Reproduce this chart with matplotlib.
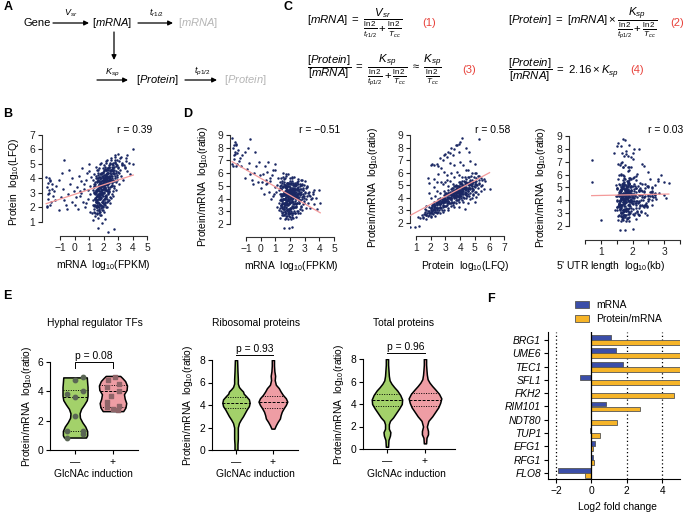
import numpy as np
import matplotlib
matplotlib.use('Agg')
import matplotlib.pyplot as plt
from matplotlib.patches import Rectangle

plt.rcParams['font.family'] = ['Liberation Sans', 'DejaVu Sans']
plt.rcParams['font.size'] = 7.4
plt.rcParams['mathtext.fontset'] = 'custom'
plt.rcParams['mathtext.rm'] = 'Liberation Sans'
plt.rcParams['mathtext.it'] = 'Liberation Sans:italic'
plt.rcParams['mathtext.bf'] = 'Liberation Sans:bold'
plt.rcParams['axes.facecolor'] = 'none'
plt.rcParams['axes.linewidth'] = 0.8

FS = 7.4

# ---- data: per gene log10 mRNA (FPKM), log10 protein (LFQ), log10 5'UTR length
mrna_log = [1.22, 1.35, 1.28, 1.39, 1.25, 1.33, 1.30, 1.37, 1.24, 1.31,
            1.42, 1.55, 1.47, 1.58, 1.44, 1.52, 1.49, 1.57, 1.41, 1.54, 1.46, 1.59, 1.51, 1.43, 1.56, 1.48,
            1.62, 1.75, 1.68, 1.79, 1.64, 1.72, 1.66, 1.78, 1.61, 1.74, 1.69, 1.77, 1.63, 1.71, 1.76, 1.65,
            1.73, 1.67, 1.79, 1.62, 1.70,
            1.83, 1.96, 1.88, 1.99, 1.81, 1.92, 1.86, 1.97, 1.84, 1.91, 1.89, 1.95, 1.82, 1.93, 1.87, 1.98,
            1.85, 1.94, 1.90, 1.81, 1.97,
            2.04, 2.15, 2.08, 2.19, 2.02, 2.12, 2.06, 2.17, 2.01, 2.14, 2.09, 2.18, 2.03, 2.11, 2.16, 2.07,
            2.13, 2.05, 2.19,
            2.23, 2.36, 2.28, 2.39, 2.21, 2.33, 2.26, 2.38, 2.24, 2.31, 2.35, 2.27, 2.22, 2.37, 2.30,
            2.43, 2.56, 2.48, 2.59, 2.41, 2.53, 2.46, 2.57, 2.44, 2.52, 2.49, 2.55,
            2.64, 2.75, 2.68, 2.79, 2.62, 2.73, 2.66, 2.77, 2.71,
            2.83, 2.95, 2.88, 2.98, 2.85, 2.92, 2.81,
            3.05, 3.22, 3.12, 3.28, 3.08, 3.18, 3.02,
            3.35, 3.62, 3.48, 3.75, 3.55,
            3.85, 4.05, 4.00,
            1.60, 1.90, 2.30, 2.70, 1.30, 2.10,
            -1.92, -1.85, -1.78, -1.88, -1.70, -1.95, -1.62, -1.80, -1.55, -1.74, -1.90, -1.66, -1.48, -1.83,
            -1.58, -1.35, -1.76, -1.42, -1.25, -1.68,
            -1.10, -0.95, -0.80, -1.05, -0.60, -0.70, -0.45, -0.88, -0.30, -0.55, -0.15, -0.72, -0.05, -0.38,
            -0.20,
            0.05, 0.15, 0.22, 0.30, 0.38, 0.45, 0.50, 0.58, 0.65, 0.70, 0.78, 0.85, 0.90, 0.95, 1.00, 1.05,
            1.10, 1.15, 0.12, 0.42, 0.62, 0.82, 0.98, 1.08, 0.35,
            1.32, 1.45, 1.38, 1.50, 1.36, 1.47, 1.34, 1.43, 1.40, 1.48, 1.37, 1.46,
            1.53, 1.66, 1.58, 1.69, 1.51, 1.63, 1.56, 1.68, 1.54, 1.65, 1.59, 1.67, 1.52, 1.64, 1.57, 1.61,
            1.55, 1.69,
            1.72, 1.85, 1.78, 1.89, 1.71, 1.83, 1.76, 1.88, 1.74, 1.86, 1.79, 1.84, 1.73, 1.87, 1.77, 1.82,
            1.75, 1.89, 1.81, 1.70,
            1.92, 2.05, 1.98, 2.09, 1.91, 2.03, 1.96, 2.08, 1.94, 2.06, 1.99, 2.04, 1.93, 2.07, 1.97, 2.02,
            1.95, 2.09, 2.01, 1.90,
            2.12, 2.25, 2.18, 2.29, 2.11, 2.23, 2.16, 2.28, 2.14, 2.26, 2.19, 2.24, 2.13, 2.27, 2.17, 2.22,
            2.15, 2.21,
            2.32, 2.45, 2.38, 2.49, 2.31, 2.43, 2.36, 2.48, 2.34, 2.46, 2.39, 2.44, 2.33, 2.47,
            2.52, 2.65, 2.58, 2.69, 2.51, 2.63, 2.56, 2.68, 2.54, 2.61,
            2.72, 2.86, 2.78, 2.93, 2.74, 2.89, 2.81, 2.97,
            1.36, 1.52, 1.41, 1.48, 1.39, 1.55, 1.44, 1.50, 1.37, 1.46,
            1.58, 1.72, 1.61, 1.69, 1.56, 1.74, 1.64, 1.71, 1.59, 1.67, 1.73, 1.62, 1.57, 1.70,
            1.77, 1.93, 1.80, 1.90, 1.76, 1.94, 1.83, 1.88, 1.79, 1.91, 1.84, 1.95, 1.78, 1.86, 1.82, 1.92,
            1.97, 2.13, 2.00, 2.10, 1.96, 2.14, 2.03, 2.08, 1.99, 2.11, 2.04, 2.15, 1.98, 2.06, 2.02, 2.12,
            2.17, 2.33, 2.20, 2.30, 2.16, 2.34, 2.23, 2.28, 2.19, 2.31, 2.24, 2.35, 2.18, 2.27,
            2.37, 2.58, 2.41, 2.52, 2.36, 2.55, 2.44, 2.50, 2.39, 2.57, 2.46, 2.53,
            2.63, 2.95, 2.70, 2.85, 2.66, 2.90, 2.76, 2.82, 2.68, 2.98,
            3.10, 3.45, 3.25, 3.55, 3.15, 3.38, 3.60, 3.30]
protein_log = [1.6, 2.1, 2.5, 2.9, 3.2, 3.6, 3.9, 4.3, 2.2, 3.0,
               1.4, 1.8, 2.0, 2.3, 2.6, 2.8, 3.1, 3.3, 3.5, 3.8, 4.0, 4.4, 4.8, 1.6, 2.4, 3.0,
               1.3, 1.5, 1.9, 2.2, 2.4, 2.7, 2.9, 3.0, 3.2, 3.4, 3.6, 3.7, 3.9, 4.1, 4.3, 4.6, 5.0, 2.0,
               2.6, 3.3, 3.8,
               1.5, 1.8, 2.1, 2.5, 2.7, 2.9, 3.1, 3.3, 3.4, 3.6, 3.8, 3.9, 4.0, 4.2, 4.4, 4.7, 5.1, 2.3,
               3.0, 3.5, 4.1,
               1.7, 2.0, 2.4, 2.8, 3.0, 3.2, 3.5, 3.7, 3.8, 4.0, 4.1, 4.3, 4.5, 4.8, 5.2, 2.6, 3.4, 3.9, 4.6,
               2.0, 2.5, 2.9, 3.3, 3.6, 3.8, 4.0, 4.2, 4.4, 4.6, 4.9, 5.3, 3.1, 3.9, 4.7,
               2.3, 2.9, 3.4, 3.7, 4.0, 4.3, 4.5, 4.8, 5.0, 5.4, 3.9, 4.6,
               2.8, 3.5, 3.9, 4.2, 4.5, 4.8, 5.1, 5.5, 4.4,
               3.2, 3.9, 4.4, 4.7, 5.0, 5.3, 5.6,
               3.6, 4.2, 4.6, 4.9, 5.2, 5.5, 5.7,
               3.9, 4.5, 4.8, 5.1, 5.4,
               4.3, 5.0, 6.0,
               0.6, 0.9, 0.3, 0.5, 1.1, 1.2,
               2.1, 2.6, 3.0, 3.4, 3.8, 4.1, 2.4, 2.9, 3.6, 3.2, 2.0, 3.9, 2.8, 3.7, 3.3, 2.5, 4.0, 3.1, 3.5, 2.2,
               1.8, 2.7, 3.3, 3.9, 2.2, 5.3, 2.9, 4.4, 3.6, 1.9, 4.0, 2.5, 3.1, 4.6, 2.4,
               2.2, 3.4, 1.9, 4.2, 2.8, 3.0, 4.7, 2.4, 3.6, 2.0, 3.9, 4.4, 2.6, 3.2, 5.0, 2.9, 3.5, 4.1,
               2.7, 3.8, 3.3, 2.3, 4.5, 1.7, 3.1,
               1.9, 2.35, 2.65, 2.75, 3.05, 3.15, 3.45, 3.65, 3.75, 4.15, 2.15, 2.55,
               1.55, 1.75, 2.05, 2.25, 2.45, 2.55, 2.85, 2.95, 3.15, 3.25, 3.45, 3.55, 3.75, 3.85, 4.05, 4.25,
               4.55, 2.75,
               1.65, 1.95, 2.15, 2.35, 2.55, 2.65, 2.85, 3.05, 3.15, 3.25, 3.35, 3.45, 3.55, 3.65, 3.75, 3.85,
               3.95, 4.15, 4.35, 4.75,
               1.85, 2.25, 2.45, 2.65, 2.85, 3.05, 3.25, 3.35, 3.45, 3.55, 3.65, 3.75, 3.85, 3.95, 4.05, 4.25,
               4.45, 4.65, 4.95, 2.05,
               2.15, 2.55, 2.85, 3.15, 3.35, 3.55, 3.65, 3.75, 3.85, 3.95, 4.05, 4.15, 4.25, 4.35, 4.55, 4.75,
               5.05, 2.35,
               2.45, 2.75, 3.05, 3.45, 3.65, 3.85, 4.05, 4.15, 4.35, 4.55, 4.75, 5.05, 3.25, 3.95,
               2.65, 3.15, 3.55, 3.85, 4.15, 4.35, 4.65, 4.95, 5.25, 4.05,
               3.35, 3.75, 4.05, 4.25, 4.55, 4.85, 5.15, 4.45,
               1.7, 2.0, 2.2, 2.4, 2.6, 2.8, 3.0, 3.2, 3.4, 2.1,
               1.6, 1.85, 2.1, 2.3, 2.5, 2.7, 2.9, 3.1, 3.3, 3.5, 3.7, 4.0, 2.2, 2.8,
               1.7, 2.0, 2.2, 2.4, 2.6, 2.8, 3.0, 3.2, 3.4, 3.5, 3.7, 3.9, 4.1, 4.3, 2.9, 3.6,
               2.1, 2.3, 2.6, 2.8, 3.0, 3.2, 3.4, 3.6, 3.7, 3.9, 4.0, 4.2, 4.4, 4.6, 3.3, 3.8,
               2.7, 3.0, 3.2, 3.4, 3.6, 3.8, 3.9, 4.1, 4.2, 4.4, 4.6, 4.8, 3.7, 4.3,
               3.1, 3.5, 3.7, 3.9, 4.1, 4.2, 4.4, 4.6, 4.8, 5.0, 4.0, 4.5,
               3.8, 4.1, 4.3, 4.5, 4.7, 4.9, 5.1, 5.3, 4.4, 4.8,
               4.4, 4.7, 5.0, 5.2, 5.4, 4.9, 5.6, 5.1]
utr_log = [1.7, 1.5, 2.1, 1.8, 1.6, 2.4, 1.9, 1.55, 2.6, 1.75,
           1.65, 1.9, 1.45, 2.2, 1.8, 1.6, 2.5, 1.7, 1.95, 1.5, 2.3, 1.85, 1.62, 2.05, 1.72, 2.7,
           1.8, 1.55, 2.0, 1.68, 2.35, 1.9, 1.6, 2.15, 1.75, 1.48, 2.55, 1.82, 1.66, 2.0, 1.58, 2.8, 1.7,
           1.92, 1.52, 2.25, 1.78,
           1.62, 2.1, 1.85, 1.7, 2.45, 1.58, 1.95, 1.76, 2.3, 1.68, 1.88, 2.6, 1.5, 1.8, 2.05, 1.72, 2.9,
           1.64, 1.98, 1.84, 2.2,
           1.9, 1.66, 2.4, 1.74, 1.56, 2.1, 1.82, 2.65, 1.7, 1.94, 1.6, 2.28, 1.78, 1.86, 2.0, 1.52, 2.5,
           1.73, 1.96,
           1.7, 2.2, 1.6, 1.88, 2.75, 1.76, 1.54, 2.05, 1.84, 1.67, 2.4, 1.92, 1.58, 2.15, 1.8,
           1.82, 1.64, 2.3, 1.75, 1.98, 1.56, 2.6, 1.7, 1.9, 2.12, 1.62, 1.86,
           1.72, 2.45, 1.6, 1.94, 1.78, 2.2, 1.66, 3.0, 1.85,
           1.9, 1.58, 2.35, 1.76, 2.05, 1.68, 2.8,
           1.74, 2.0, 1.62, 2.55, 1.8, 1.92, 3.15,
           1.7, 2.25, 1.85, 1.6, 2.7,
           1.8, 2.4, 1.95,
           1.75, 1.6, 2.1, 1.85, 1.0, 2.0,
           1.6, 0.7, 1.85, 2.05, 1.5, 1.68, 1.75, 1.95, 1.78, 1.4, 1.7, 1.9, 1.65, 1.62, 1.8, 1.86, 1.55,
           2.0, 1.72, 1.95,
           1.7, 1.9, 1.55, 2.0, 1.82, 1.76, 1.62, 2.2, 1.9, 1.48, 2.3, 1.74, 2.1, 1.65, 1.72,
           1.8, 1.58, 2.2, 1.7, 2.45, 1.9, 1.64, 2.6, 1.76, 1.52, 2.05, 1.86, 3.0, 1.68, 2.35, 1.6, 1.95,
           1.95, 1.72, 2.15, 1.84, 1.62, 2.5, 1.78, 0.7,
           1.72, 1.58, 2.02, 1.84, 1.66, 2.3, 1.78, 1.52, 2.5, 1.9, 1.62, 1.98,
           1.76, 1.54, 2.14, 1.7, 1.86, 2.42, 1.64, 1.94, 1.5, 2.06, 1.8, 1.68, 2.62, 1.74, 1.6, 2.22,
           1.88, 1.56,
           1.82, 1.62, 2.26, 1.72, 1.92, 1.55, 2.08, 1.78, 2.52, 1.66, 1.86, 1.7, 2.0, 1.58, 2.36, 1.76,
           1.64, 2.12, 1.9, 1.74,
           1.68, 2.18, 1.8, 1.6, 2.4, 1.74, 1.96, 1.52, 2.04, 1.84, 1.66, 2.7, 1.78, 1.9, 1.62, 2.24,
           1.72, 1.86, 2.56, 1.7,
           1.9, 1.64, 2.1, 1.76, 1.56, 2.32, 1.82, 1.68, 2.0, 1.74, 2.85, 1.6, 1.94, 1.8, 2.16, 1.66,
           1.88, 2.45,
           1.78, 2.06, 1.62, 1.9, 2.6, 1.72, 1.84, 1.58, 2.2, 1.76, 1.96, 1.68, 2.38, 1.82,
           1.74, 2.28, 1.66, 1.92, 1.8, 2.5, 1.6, 2.1, 1.86, 3.05,
           1.84, 1.64, 2.2, 1.76, 2.68, 1.9, 1.7, 2.02,
           1.66, 1.84, 1.58, 2.12, 1.74, 1.9, 2.36, 1.62, 1.78, 2.0,
           1.7, 1.56, 1.96, 1.82, 2.24, 1.64, 1.76, 2.5, 1.68, 1.88, 1.6, 2.08, 1.8, 1.72,
           1.86, 1.62, 2.14, 1.74, 1.58, 2.34, 1.7, 1.92, 1.66, 2.02, 1.78, 2.58, 1.64, 1.84, 1.72, 1.98,
           1.76, 2.2, 1.6, 1.9, 1.7, 2.44, 1.82, 1.66, 2.06, 1.74, 1.58, 2.3, 1.86, 1.68, 1.94, 1.8,
           1.72, 1.94, 1.6, 2.16, 1.8, 1.66, 2.4, 1.76, 1.88, 1.62, 2.62, 1.7, 1.84, 2.04,
           1.8, 1.64, 2.26, 1.74, 1.96, 1.6, 2.1, 1.86, 1.7, 2.48, 1.78, 1.9,
           1.68, 2.2, 1.76, 1.9, 1.62, 2.36, 1.82, 2.72, 1.74, 1.96,
           1.7, 2.04, 1.84, 2.6, 1.78, 1.92, 2.2, 1.66]
ratio_offset = 2.7   # log10(protein/mRNA) = log10 LFQ - log10 FPKM + offset

# ---- panel E: hyphal regulator TFs (points) and violin outlines
tf_minus = [4.97, 4.75, 4.05, 3.8, 3.6, 2.3, 1.3, 1.3, 1.1, 0.85]
tf_minus_dx = [0.2, 0.0, 0.2, -0.22, 0.0, 0.0, -0.22, 0.22, 0.22, -0.2]
tf_plus = [5.0, 4.75, 4.5, 4.3, 4.0, 3.7, 3.3, 3.0, 2.95, 2.8, 2.7]
tf_plus_dx = [0.05, -0.12, 0.15, -0.15, 0.15, -0.05, -0.15, 0.15, -0.15, 0.0, 0.12]

tf_minus_y = [0.85, 1.0, 1.3, 1.6, 1.9, 2.2, 2.5, 2.8, 3.1, 3.4, 3.7, 4.0, 4.3, 4.6, 4.95]
tf_minus_w = [0.29, 0.32, 0.32, 0.27, 0.19, 0.13, 0.12, 0.16, 0.24, 0.31, 0.33, 0.33, 0.33, 0.32, 0.31]
tf_plus_y = [2.65, 2.9, 3.2, 3.5, 3.8, 4.1, 4.4, 4.7, 4.9, 5.05]
tf_plus_w = [0.27, 0.33, 0.35, 0.31, 0.29, 0.36, 0.37, 0.32, 0.25, 0.19]
tf_quart = [[1.3, 3.6, 4.1], [2.95, 4.0, 4.4]]

ribo_minus_y = [0.0, 0.5, 1.0, 1.5, 2.0, 2.4, 2.7, 3.0, 3.3, 3.6, 3.9, 4.2, 4.5, 4.8, 5.0, 5.2, 5.4, 5.6,
                5.9, 6.3, 7.0, 7.5, 8.0]
ribo_minus_w = [0.04, 0.04, 0.05, 0.05, 0.05, 0.08, 0.13, 0.19, 0.24, 0.29, 0.35, 0.37, 0.35, 0.27, 0.21,
                0.19, 0.13, 0.08, 0.05, 0.05, 0.04, 0.035, 0.03]
ribo_plus_y = [1.9, 2.2, 2.5, 2.8, 3.1, 3.4, 3.7, 4.0, 4.3, 4.6, 4.9, 5.2, 5.5, 5.8, 6.2, 6.6, 7.0, 7.5, 8.0]
ribo_plus_w = [0.04, 0.08, 0.13, 0.19, 0.21, 0.24, 0.29, 0.35, 0.39, 0.35, 0.27, 0.21, 0.16, 0.08, 0.05,
               0.06, 0.04, 0.03, 0.03]
ribo_quart = [[3.7, 4.2, 4.7], [3.75, 4.3, 4.8]]

total_minus_y = [0.2, 0.8, 1.2, 1.5, 1.8, 2.2, 2.5, 2.8, 3.2, 3.6, 4.0, 4.4, 4.8, 5.2, 5.5, 5.8, 6.1, 6.5,
                 7.0, 7.5, 8.0]
total_minus_w = [0.03, 0.04, 0.08, 0.09, 0.05, 0.05, 0.08, 0.16, 0.24, 0.32, 0.39, 0.4, 0.35, 0.27, 0.19,
                 0.12, 0.07, 0.05, 0.04, 0.03, 0.03]
total_plus_y = [0.5, 1.0, 1.3, 1.6, 2.0, 2.5, 2.9, 3.3, 3.7, 4.1, 4.5, 4.9, 5.3, 5.6, 5.9, 6.2, 6.6, 7.0,
                7.5, 8.0]
total_plus_w = [0.03, 0.04, 0.08, 0.08, 0.05, 0.09, 0.19, 0.27, 0.35, 0.4, 0.43, 0.37, 0.27, 0.19, 0.12,
                0.07, 0.05, 0.04, 0.03, 0.03]
total_quart = [[3.8, 4.35, 4.9], [3.8, 4.4, 4.95]]

# ---- panel F
genes_f = ['BRG1', 'UME6', 'TEC1', 'SFL1', 'FKH2', 'RIM101', 'NDT80', 'TUP1', 'EFG1', 'RFG1', 'FLO8']
mrna_fc = [1.08, 1.36, 1.80, -0.64, 0.0, 0.83, 0.0, -0.06, 0.23, 0.08, -1.90]
ratio_fc = [5.0, 5.0, 5.0, 5.0, 4.64, 2.76, 1.42, 0.51, 0.08, 0.17, -0.38]

W, H = 687, 512
fig = plt.figure(figsize=(W / 100, H / 100), dpi=100)
cv = fig.add_axes([0, 0, 1, 1])
cv.set_xlim(0, W)
cv.set_ylim(H, 0)
cv.axis('off')


def box(x0, y0, x1, y1):
    return [x0 / W, 1 - y1 / H, (x1 - x0) / W, (y1 - y0) / H]


def arrow(x0, y0, x1, y1):
    cv.annotate('', xy=(x1, y1), xytext=(x0, y0),
                arrowprops=dict(arrowstyle='-|>', color='k', lw=0.9, mutation_scale=7,
                                shrinkA=0, shrinkB=0))


# panel letters
for lab, x, y in [('A', 4, 7), ('C', 283, 7), ('B', 3, 114), ('D', 183, 114), ('E', 3, 296), ('F', 487, 299)]:
    cv.text(x, y, lab, fontsize=9, fontweight='bold', ha='left', va='center')

# ---- A: scheme
grey = '#b5b5b5'
cv.text(23, 23, 'Gene', fontsize=8, va='center')
arrow(53, 23, 89, 23)
cv.text(71, 13, r'$V_{sr}$', fontsize=6.5, ha='center', va='center')
cv.text(92, 23, r'$[mRNA]$', fontsize=8, va='center')
arrow(138, 23, 173, 23)
cv.text(157, 13, r'$t_{r1/2}$', fontsize=6.5, ha='center', va='center')
cv.text(178, 23, r'$[mRNA]$', fontsize=8, va='center', color=grey)
arrow(114, 32, 114, 60)
arrow(97, 80, 128, 80)
cv.text(112, 73, r'$K_{sp}$', fontsize=6.5, ha='center', va='center')
cv.text(136, 80, r'$[Protein]$', fontsize=8, va='center')
arrow(185, 80, 217, 80)
cv.text(202, 71, r'$t_{p1/2}$', fontsize=6.5, ha='center', va='center')
cv.text(224, 80, r'$[Protein]$', fontsize=8, va='center', color=grey)

# ---- C: equations
red = '#e8413a'
eqs = [(307, 23, r'$[mRNA]\ =\ \dfrac{V_{sr}}{\frac{\ln 2}{t_{r1/2}} + \frac{\ln 2}{T_{cc}}}$', 422, '(1)'),
       (508, 23, r'$[Protein]\ =\ [mRNA] \times \dfrac{K_{sp}}{\frac{\ln 2}{t_{p1/2}} + \frac{\ln 2}{T_{cc}}}$',
        670, '(2)'),
       (307, 70, r'$\dfrac{[Protein]}{[mRNA]}\ =\ \dfrac{K_{sp}}{\frac{\ln 2}{t_{p1/2}} + \frac{\ln 2}{T_{cc}}}'
                 r'\ \approx\ \dfrac{K_{sp}}{\frac{\ln 2}{T_{cc}}}$', 462, '(3)'),
       (508, 70, r'$\dfrac{[Protein]}{[mRNA]}\ =\ 2.16 \times K_{sp}$', 630, '(4)')]
for x, y, s, xn, num in eqs:
    cv.text(x, y, s, fontsize=8.2, ha='left', va='center')
    cv.text(xn, y, num, fontsize=8, ha='left', va='center', color=red)

# ---- B / D scatter panels
m = np.array(mrna_log)
p = np.array(protein_log)
u = np.array(utr_log)
ratio = p - m + ratio_offset


def scatter_panel(pbox, x, y, xlim, ylim, xb, yb, xt, yt, xtl=None):
    ax = fig.add_axes(box(*pbox))
    ax.set_xlim(xlim)
    ax.set_ylim(ylim)
    ax.scatter(x, y, s=3.2, color='#1a2763', linewidths=0, zorder=2)
    k, b = np.polyfit(x, y, 1)
    xx = np.array([x.min(), x.max()])
    ax.plot(xx, k * xx + b, color='#f49a9a', lw=0.9, zorder=3)
    ax.spines[['top', 'right']].set_visible(False)
    ax.spines['bottom'].set_bounds(*xb)
    ax.spines['left'].set_bounds(*yb)
    ax.spines[['left', 'bottom']].set_color('#333333')
    ax.set_xticks(xt)
    if xtl is not None:
        ax.set_xticklabels(xtl)
    ax.set_yticks(yt)
    ax.tick_params(length=3, width=0.8, pad=2, labelsize=FS, colors='#222222')
    return ax


scatter_panel((42, 128, 152, 236), m, p, (-2.24, 5.34), (0.03, 7.48), (-1, 5), (1, 7),
              range(-1, 6), range(1, 8))
scatter_panel((230, 130, 343, 237), m, ratio, (-2.09, 5.6), (0.98, 9.4), (-1, 5), (2, 9),
              range(-1, 6), range(2, 10))
scatter_panel((410, 128, 515, 236), p, ratio, (0.59, 7.73), (0.97, 9.56), (1, 7), (2, 9),
              range(1, 8), range(2, 10))
scatter_panel((569, 128, 683, 240), u, ratio, (-0.02, 3.6), (0.91, 9.62), (0.5, 3.5), (2, 9),
              np.arange(0.5, 3.6, 0.5), range(2, 10), ['', '1', '', '2', '', '3', ''])

for x, s in [(152, 'r = 0.39'), (340, 'r = \u22120.51'), (510, 'r = 0.58'), (683, 'r = 0.03')]:
    cv.text(x, 130, s, ha='right', va='center', fontsize=FS)
for x, y, s in [(103, 265, r'mRNA  log$_{10}$(FPKM)'), (291, 266, r'mRNA  log$_{10}$(FPKM)'),
                (465, 266, r'Protein  log$_{10}$(LFQ)'), (611, 266, r"5' UTR length  log$_{10}$(kb)")]:
    cv.text(x, y, s, ha='center', va='center', fontsize=FS)
ratio_label = r'Protein/mRNA  log$_{10}$(ratio)'
for x, y, s in [(14, 182, r'Protein  log$_{10}$(LFQ)'), (203, 186, ratio_label),
                (373, 187, ratio_label), (541, 187, ratio_label)]:
    cv.text(x, y, s, ha='center', va='center', rotation=90, fontsize=FS)

# ---- E: violins
green, pink = '#a3d16a', '#ee9da4'


def violin(ax, pos, ys, ws, color, quart):
    ys = np.array(ys)
    ws = np.array(ws)
    ax.fill_betweenx(ys, pos - ws, pos + ws, facecolor=color, edgecolor='k', lw=1.1, zorder=2)
    for q, ls in zip(quart, [(0, (1, 1.5)), (0, (3, 1.5)), (0, (1, 1.5))]):
        w = np.interp(q, ys, ws)
        ax.plot([pos - w, pos + w], [q, q], color='k', lw=0.7, ls=ls, zorder=3)


def violin_axes(pbox, xlim, ymax, yt):
    ax = fig.add_axes(box(*pbox))
    ax.set_xlim(xlim)
    ax.set_ylim(0, ymax)
    ax.spines[['top', 'right']].set_visible(False)
    ax.set_xticks([0, 1])
    ax.set_xticklabels(['\u2014', '+'])
    ax.set_yticks(yt)
    ax.tick_params(length=3, width=0.8, pad=2, labelsize=FS)
    return ax


ax1 = violin_axes((50, 362, 138, 450), (-0.66, 1.66), 6, [0, 2, 4, 6])
violin(ax1, 0, tf_minus_y, tf_minus_w, green, tf_quart[0])
violin(ax1, 1, tf_plus_y, tf_plus_w, pink, tf_quart[1])
ax1.scatter(np.array(tf_minus_dx), tf_minus, s=10, marker='o', color='#5a6654', zorder=4, clip_on=False)
ax1.scatter(1 + np.array(tf_plus_dx), tf_plus, s=10, marker='s', color='#8e6468', zorder=4, clip_on=False)
ax1.plot([0, 0, 1, 1], [5.6, 6.0, 6.0, 5.6], color='k', lw=0.7, clip_on=False)
ax1.text(0.5, 6.42, 'p = 0.08', ha='center', va='center', fontsize=FS)

ax2 = violin_axes((212, 360, 298, 450), (-0.65, 1.68), 8, [0, 2, 4, 6, 8])
violin(ax2, 0, ribo_minus_y, ribo_minus_w, green, ribo_quart[0])
violin(ax2, 1, ribo_plus_y, ribo_plus_w, pink, ribo_quart[1])
ax2.plot([0, 1], [8.45, 8.45], color='k', lw=0.7, clip_on=False)
ax2.text(0.5, 8.98, 'p = 0.93', ha='center', va='center', fontsize=FS)

ax3 = violin_axes((363, 359, 455, 449), (-0.63, 1.79), 8, [0, 2, 4, 6, 8])
violin(ax3, 0, total_minus_y, total_minus_w, green, total_quart[0])
violin(ax3, 1, total_plus_y, total_plus_w, pink, total_quart[1])
ax3.plot([0, 1], [8.55, 8.55], color='k', lw=0.7, clip_on=False)
ax3.text(0.5, 9.07, 'p = 0.96', ha='center', va='center', fontsize=FS)

for x, s in [(95, 'Hyphal regulator TFs'), (256, 'Ribosomal proteins'), (404, 'Total proteins')]:
    cv.text(x, 323, s, ha='center', va='center', fontsize=FS)
for x in [93, 255, 406]:
    cv.text(x, 474, 'GlcNAc induction', ha='center', va='center', fontsize=FS)
for x, y in [(27, 406), (188, 405), (339, 404)]:
    cv.text(x, y, ratio_label, ha='center', va='center', rotation=90, fontsize=FS)

# ---- F: bar chart
axf = fig.add_axes(box(548, 332, 680, 479))
idx = np.arange(len(genes_f))
blue, orange = '#3b4ea8', '#f6b428'
axf.barh(idx - 0.19, mrna_fc, height=0.37, color=blue, edgecolor='#555555', lw=0.6, zorder=3)
axf.barh(idx + 0.19, ratio_fc, height=0.37, color=orange, edgecolor='#555555', lw=0.6, zorder=3)
for v in [-2, 2, 4]:
    axf.axvline(v, color='k', lw=0.9, ls=(0, (1, 2)), zorder=1)
axf.axvline(0, color='k', lw=0.9, zorder=4)
axf.set_xlim(-2.45, 5.0)
axf.set_ylim(10.45, -0.6)
axf.spines[['top', 'right']].set_visible(False)
axf.set_yticks(idx)
axf.set_yticklabels(genes_f, fontstyle='italic')
axf.set_xticks([-2, 0, 2, 4])
axf.tick_params(length=3, width=0.8, pad=2, labelsize=FS)
cv.text(617, 507, 'Log2 fold change', ha='center', va='center', fontsize=FS)
for y, c, s in [(301, blue, 'mRNA'), (315, orange, 'Protein/mRNA')]:
    cv.add_patch(Rectangle((575, y), 14, 7, facecolor=c, edgecolor='#555555', lw=0.6))
    cv.text(596, y + 3.5, s, ha='left', va='center', fontsize=FS)

fig.savefig('out.png', dpi=100)
